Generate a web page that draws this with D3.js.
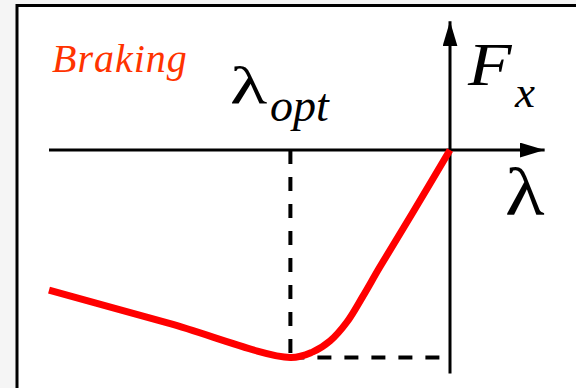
<!DOCTYPE html>
<html>
<head>
<meta charset="utf-8">
<script src="https://cdn.jsdelivr.net/npm/d3@7"></script>
<style>
  html, body { margin: 0; padding: 0; background: #f5f5f5; }
  svg { display: block; }
</style>
</head>
<body>
<svg id="chart" width="576" height="388"></svg>
<script>
// Tyre longitudinal force vs. slip ratio under braking (normalised units)
const slip  = [-1.0, -0.7, -0.398, -0.342, -0.299, -0.257, -0.217, -0.175, -0.092, 0];
const force = [-0.675, -0.836, -1.0, -0.973, -0.920, -0.829, -0.704, -0.564, -0.299, 0];
const slipOpt = -0.398;      // slip at peak braking force
const forceMin = -1.0;       // peak braking force
const slipAxisEnd = 0.236;   // extent of the slip axis arrow
const forceAxisTop = 0.62;   // extent of the force axis arrow
const forceAxisBottom = -1.077;

const SERIF = "Liberation Serif, DejaVu Serif, serif";

const svg = d3.select("#chart");
const W = 576, H = 388;

// framed panel
svg.append("rect")
  .attr("x", 17).attr("y", 5.5)
  .attr("width", W).attr("height", H)
  .attr("fill", "#fff")
  .attr("stroke", "#000").attr("stroke-width", 3);

const x = d3.scaleLinear().domain([-1, 0]).range([49, 450]);
const y = d3.scaleLinear().domain([0, -1]).range([150, 357.5]);

// arrowhead marker
const defs = svg.append("defs");
defs.append("marker")
  .attr("id", "arrow")
  .attr("viewBox", "0 0 25 15")
  .attr("refX", 25).attr("refY", 7.5)
  .attr("markerUnits", "userSpaceOnUse")
  .attr("markerWidth", 25).attr("markerHeight", 15)
  .attr("orient", "auto")
  .append("path")
  .attr("d", "M0,0 L25,7.5 L0,15 Z")
  .attr("fill", "#000");

// slip axis
svg.append("line")
  .attr("x1", x(-1)).attr("x2", x(slipAxisEnd))
  .attr("y1", y(0)).attr("y2", y(0))
  .attr("stroke", "#000").attr("stroke-width", 3)
  .attr("marker-end", "url(#arrow)");

// force axis
svg.append("line")
  .attr("x1", x(0)).attr("x2", x(0))
  .attr("y1", y(forceAxisBottom)).attr("y2", y(forceAxisTop))
  .attr("stroke", "#000").attr("stroke-width", 3)
  .attr("marker-end", "url(#arrow)");

// guide lines to the optimum
const dash = { w: 4, pattern: "14,13" };
svg.append("line")
  .attr("x1", x(slipOpt)).attr("x2", x(slipOpt))
  .attr("y1", y(0)).attr("y2", y(forceMin))
  .attr("stroke", "#000").attr("stroke-width", dash.w)
  .attr("stroke-dasharray", dash.pattern);
svg.append("line")
  .attr("x1", x(slipOpt)).attr("x2", x(0) - 3)
  .attr("y1", y(forceMin)).attr("y2", y(forceMin))
  .attr("stroke", "#000").attr("stroke-width", dash.w)
  .attr("stroke-dasharray", dash.pattern);

// force curve
const pts = slip.map((s, i) => [s, force[i]]);
const line = d3.line()
  .x(d => x(d[0])).y(d => y(d[1]))
  .curve(d3.curveCatmullRom.alpha(0.5));
svg.append("path")
  .attr("d", line(pts))
  .attr("fill", "none")
  .attr("stroke", "#ff0000")
  .attr("stroke-width", 7);

// labels
svg.append("text")
  .attr("x", 52).attr("y", 72)
  .style("font-family", SERIF)
  .attr("font-size", 40).attr("font-style", "italic")
  .attr("letter-spacing", 1)
  .attr("fill", "#ff3300")
  .text("Braking");

// λ_opt marker label
svg.append("text")
  .attr("transform", "translate(230,103) scale(1.45,1)")
  .style("font-family", SERIF)
  .attr("font-size", 53)
  .text("λ");
svg.append("text")
  .attr("x", 270).attr("y", 121)
  .style("font-family", SERIF)
  .attr("font-size", 46).attr("font-style", "italic")
  .text("opt");

// force axis title
svg.append("text")
  .attr("transform", "translate(468,85) scale(1.15,1)")
  .style("font-family", SERIF)
  .attr("font-size", 62).attr("font-style", "italic")
  .text("F");
svg.append("text")
  .attr("x", 515).attr("y", 107)
  .style("font-family", SERIF)
  .attr("font-size", 45).attr("font-style", "italic")
  .text("x");

// slip axis title
svg.append("text")
  .attr("transform", "translate(505,215) scale(1.2,1)")
  .style("font-family", SERIF)
  .attr("font-size", 68)
  .text("λ");
</script>
</body>
</html>
